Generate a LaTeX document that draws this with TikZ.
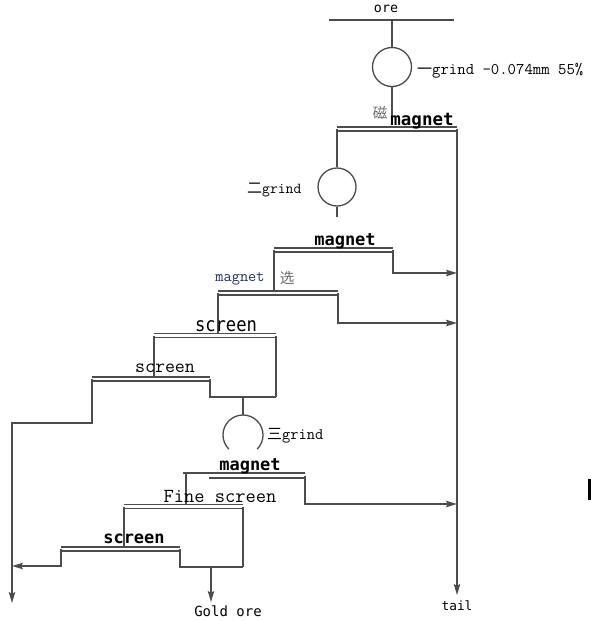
\documentclass[tikz,border=0pt]{standalone}
\usepackage{fontspec}
\usetikzlibrary{arrows.meta}
\newfontfamily\smono{DejaVu Sans Mono}
\newfontfamily\smonoW[FakeStretch=0.88]{DejaVu Sans Mono}
\newfontfamily\cjk{Noto Sans CJK SC}
\definecolor{ln}{HTML}{4C4C4C}
\definecolor{navy}{HTML}{22306A}
\definecolor{cjkgray}{HTML}{6A6A6A}
\newcommand{\fsz}[1]{\fontsize{#1}{#1}\selectfont}
\begin{document}
\begin{tikzpicture}[x=1pt,y=-1pt,
  flow/.style={draw=ln, line width=1.3pt},
  sepline/.style={draw=ln, line width=1.4pt, double=white, double distance=2.3pt},
  arr/.style={flow, -{Stealth[length=11pt,width=6.5pt,inset=2pt]}},
  mill/.style={circle, draw=ln, line width=1.3pt, minimum size=39pt, inner sep=0pt},
  lbl/.style={inner sep=0pt, text=black},
  sansb/.style={lbl, font=\smono\bfseries\fsz{17}},
  sansn/.style={lbl, font=\smonoW\fsz{19.5}},
  serifm/.style={lbl, font=\ttfamily\fsz{19.4}},
  cjkg/.style={lbl, text=cjkgray, font=\cjk\fsz{14.5}}
]
\useasboundingbox (0,0) rectangle (591,621);
\fill[white] (0,0) rectangle (591,621);

% coordinates
\coordinate (oreL) at (329,20);
\coordinate (oreR) at (454,20);
\coordinate (oreF) at (392,20);
\coordinate (m1in) at (392,116);
\coordinate (m1L) at (337,129);
\coordinate (m1R) at (457,129);
\coordinate (g2out) at (337,217);
\coordinate (m2L) at (274,250);
\coordinate (m2R) at (393,250);
\coordinate (t273) at (457,273);
\coordinate (m3L) at (218,293);
\coordinate (m3R) at (338,293);
\coordinate (t323) at (457,323);
\coordinate (s1L) at (154,335.5);
\coordinate (s1R) at (276,335.5);
\coordinate (j1R) at (276,397);
\coordinate (j1) at (243,397);
\coordinate (s2L) at (92,379);
\coordinate (s2R) at (210,379);
\coordinate (g3c) at (243,435);
\coordinate (g3top) at (243,415);
\coordinate (m4a) at (183,473);
\coordinate (m4aR) at (305,473);
\coordinate (m4b) at (209,478);
\coordinate (m4bR) at (305,478);
\coordinate (m4L) at (186,473);
\coordinate (m4R) at (305,475.5);
\coordinate (t504) at (457,504);
\coordinate (fsL) at (124,506.5);
\coordinate (fsR) at (243,506.5);
\coordinate (j2R) at (243,567);
\coordinate (j2) at (211,567);
\coordinate (goldTip) at (211,602);
\coordinate (s3L) at (61,549);
\coordinate (s3R) at (180,549);
\coordinate (lw566) at (12,566);
\coordinate (lw423) at (12,423);
\coordinate (lwEnd) at (12,603);
\coordinate (tailEnd) at (457,595);

% mills
\node[mill] (g1) at (392,67) {};
\node[mill, minimum size=38pt] (g2) at (337,187) {};

% feed
\draw[flow, line width=1.6pt] (oreL) -- (oreR);
\draw[flow] (oreF) -- (g1.north);
\draw[flow] (g1.south) -- (m1in);

% magnet 1
\draw[sepline] (m1L) -- (m1R);
\draw[arr] (m1R) -- (tailEnd);
\draw[flow] (m1L) -- (g2.north);
\draw[flow] (g2.south) -- (g2out);

% magnet 2
\draw[sepline] (m2L) -- (m2R);
\draw[arr] (m2R) |- (t273);
\draw[flow] (m2L) -- (m2L |- m3L);

% magnet 3
\draw[sepline] (m3L) -- (m3R);
\draw[arr] (m3R) |- (t323);
\draw[flow] (m3L) -- (m3L |- s1L);

% screen 1
\draw[sepline] (s1L) -- (s1R);
\draw[flow] (s1R) -- (j1R);
\draw[flow] (s1L) -- (s1L |- s2L);

% screen 2
\draw[sepline] (s2L) -- (s2R);
\draw[flow] (s2R) |- (j1R);
\draw[arr] (s2L) |- (lw423) -- (lwEnd);

% mill 3
\draw[flow] (j1) -- (g3top);
\draw[flow] (g3c) ++(135:20) arc[start angle=135, end angle=405, radius=20];

% magnet 4
\draw[flow, line width=1.4pt] (m4a) -- (m4aR);
\draw[flow, line width=1.4pt] (m4b) -- (m4bR);
\draw[arr] (m4R) |- (t504);
\draw[flow] (m4L) -- (m4L |- fsL);

% fine screen
\draw[sepline] (fsL) -- (fsR);
\draw[flow] (fsR) -- (j2R);
\draw[flow] (fsL) -- (fsL |- s3L);

% screen 3
\draw[sepline] (s3L) -- (s3R);
\draw[arr] (s3L) |- (lw566);
\draw[flow] (s3R) |- (j2R);
\draw[arr] (j2) -- (goldTip);

% labels
\node[lbl, font=\smono\fsz{13.3}] (tOre) at (386,9) {ore};
\node[sansb, font=\smono\bfseries\fsz{17.5}] (tM1) at (422,121.5) {magnet};
\node[cjkg] (tCi) at (380,113) {磁};
\node[lbl, anchor=west] (tG1) at (417,71) {{\cjk\fsz{15}一}{\ttfamily\fsz{16.3}grind -0.074mm 55\%}};
\node[lbl, anchor=west] (tG2) at (247,190) {{\cjk\fsz{15}二}{\ttfamily\fsz{15.2}grind}};
\node[sansb] (tM2) at (345,241) {magnet};
\node[lbl, text=navy, font=\ttfamily\fsz{15.9}] (tM3) at (240,279) {magnet};
\node[cjkg] (tXuan) at (287,278) {选};
\node[sansn] (tS1) at (226,326) {screen};
\node[serifm] (tS2) at (165,368.5) {screen};
\node[lbl, anchor=west] (tG3) at (267,436) {{\cjk\fsz{15}三}{\ttfamily\fsz{16}grind}};
\node[sansb] (tM4) at (250,466.5) {magnet};
\node[serifm, font=\ttfamily\fsz{19.9}] (tFS) at (220,496) {Fine screen};
\node[sansb] (tS3) at (134,538.5) {screen};
\node[lbl, font=\smono\fsz{14}] (tGold) at (228,611.5) {Gold ore};
\node[lbl, font=\smono\fsz{12.8}] (tTail) at (457,605.5) {tail};

% edge mark
\fill[black] (588,479) rectangle (591,500);
\end{tikzpicture}
\end{document}
